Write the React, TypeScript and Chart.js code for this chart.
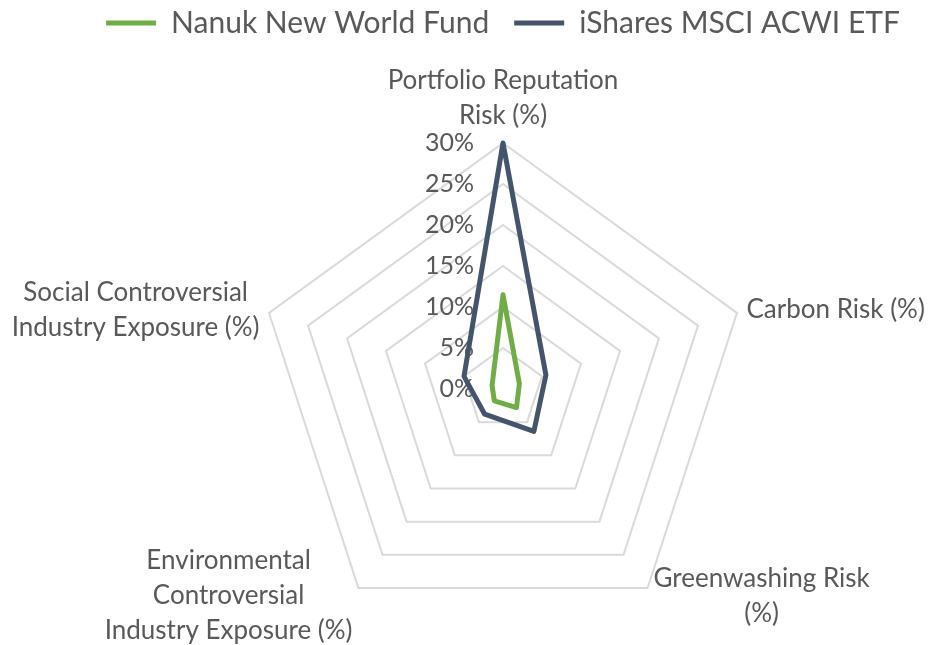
import React, { useEffect, useRef } from 'react';
import { Chart, registerables } from 'chart.js';

Chart.register(...registerables);

// ---- data ----
const categories: string[][] = [
  ['Portfolio Reputation', 'Risk (%)'],
  ['Carbon Risk (%)'],
  ['Greenwashing Risk', '(%)'],
  ['Environmental', 'Controversial', 'Industry Exposure (%)'],
  ['Social Controversial', 'Industry Exposure (%)'],
];
const seriesNames = ['Nanuk New World Fund', 'iShares MSCI ACWI ETF'];
const nanukValues = [11.5, 2.1, 2.8, 1.8, 1.4];
const isharesValues = [30, 5.5, 6.4, 3.8, 5.0];
const axisMin = 0;
const axisMax = 30;
const axisStep = 5;

// ---- style ----
const FONT = 'Lato, "Open Sans", sans-serif';
const TEXT = '#595959';
const GRID = '#D9D9D9';
const GREEN = '#70AD47';
const BLUE = '#44546A';
const LEGEND_SIZE = 30;
const LEGEND_PAD = 25;
const LABEL_SIZE = 26;
const TICK_SIZE = 25;
const LABEL_LINE = 35;
const LABEL_PAD = 10;
const TICK_GAP = 29;
const PAD_TOP = -17;
const PLOT_TOP = 143;

const legendBlock = {
  id: 'legendBlock',
  beforeLayout(chart: any) {
    const lg = chart.legend;
    if (lg && !lg.__patched) {
      const orig = lg.fit;
      lg.fit = function () {
        orig.call(this);
        this.height = PLOT_TOP - PAD_TOP;
      };
      lg.__patched = true;
    }
  },
};

const radarText = {
  id: 'radarText',
  beforeDatasetsDraw(chart: any) {
    const s = chart.scales.r;
    const ctx = chart.ctx as CanvasRenderingContext2D;
    ctx.save();
    ctx.fillStyle = TEXT;
    // tick labels
    ctx.font = `${TICK_SIZE}px ${FONT}`;
    ctx.textAlign = 'right';
    ctx.textBaseline = 'middle';
    s.ticks.forEach((t: any) => {
      const d = s.getDistanceFromCenterForValue(t.value);
      ctx.fillText(String(t.label), s.xCenter - TICK_GAP, s.yCenter - d);
    });
    // category labels
    ctx.font = `${LABEL_SIZE}px ${FONT}`;
    ctx.textAlign = 'center';
    (chart.data.labels as any[]).forEach((lab, i) => {
      const lines: string[] = Array.isArray(lab) ? lab : [lab];
      const p = s.getPointPosition(i, s.drawingArea + LABEL_PAD);
      const a = s.getIndexAngle(i);
      const sn = Math.sin(a);
      const cs = Math.cos(a);
      const w = Math.max(...lines.map((l) => ctx.measureText(l).width));
      const h = lines.length * LABEL_LINE;
      let cx = p.x;
      if (sn > 0.1) cx = p.x + w / 2;
      else if (sn < -0.1) cx = p.x - w / 2;
      let top = p.y - h / 2;
      if (cs > 0.9) top = p.y - h;
      else if (cs < -0.9) top = p.y;
      lines.forEach((l, k) => ctx.fillText(l, cx, top + LABEL_LINE * (k + 0.5)));
    });
    ctx.restore();
  },
};

export default function App() {
  const ref = useRef<HTMLCanvasElement>(null);
  useEffect(() => {
    if (!ref.current) return;
    const chart = new Chart(ref.current, {
      type: 'radar',
      data: {
        labels: categories as any,
        datasets: [
          {
            label: seriesNames[0],
            data: nanukValues,
            borderColor: GREEN,
            backgroundColor: 'transparent',
            borderWidth: 5,
            pointRadius: 0,
            fill: false,
          },
          {
            label: seriesNames[1],
            data: isharesValues,
            borderColor: BLUE,
            backgroundColor: 'transparent',
            borderWidth: 5,
            pointRadius: 0,
            fill: false,
          },
        ],
      },
      options: {
        responsive: false,
        animation: false,
        layout: { padding: { top: PAD_TOP, left: 78, right: 0, bottom: 10 } },
        elements: { line: { tension: 0, borderJoinStyle: 'round' } },
        plugins: {
          legend: {
            position: 'top',
            labels: {
              usePointStyle: true,
              pointStyle: 'line',
              pointStyleWidth: 50,
              padding: LEGEND_PAD,
              color: TEXT,
              font: { family: FONT, size: LEGEND_SIZE },
            },
          },
          tooltip: { enabled: false },
        },
        scales: {
          r: {
            min: axisMin,
            max: axisMax,
            ticks: { stepSize: axisStep, display: false, callback: (v: any) => `${v}%` },
            grid: { color: GRID, lineWidth: 2 },
            angleLines: { display: false },
            pointLabels: { display: false },
          },
        },
      } as any,
      plugins: [legendBlock, radarText],
    });
    return () => chart.destroy();
  }, []);
  return (
    <div style={{ position: 'absolute', left: 0, top: 0, width: 928, height: 645 }}>
      <canvas ref={ref} width={928} height={645} style={{ display: 'block' }} />
    </div>
  );
}
